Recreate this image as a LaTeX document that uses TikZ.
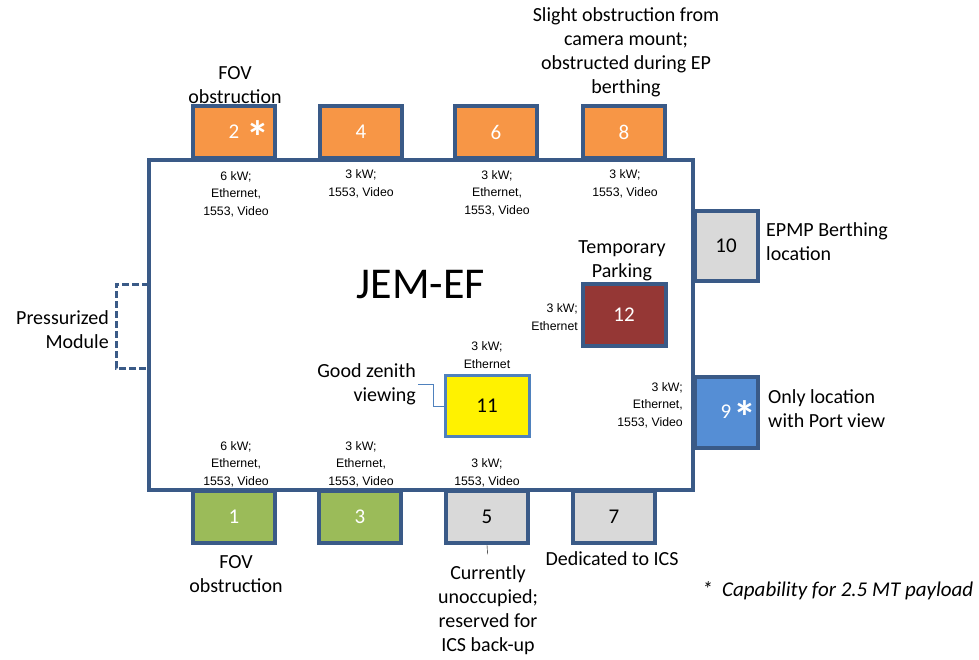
\documentclass[tikz,border=0pt]{standalone}
\usepackage{fontspec}
\setmainfont{Carlito}
\newfontfamily\arialf{Liberation Sans}
\definecolor{edge}{HTML}{3A5A87}
\definecolor{lightedge}{HTML}{4F81BD}
\definecolor{orangeslot}{HTML}{F79646}
\definecolor{greenslot}{HTML}{9BBB59}
\definecolor{greyslot}{HTML}{D9D9D9}
\definecolor{redslot}{HTML}{953735}
\definecolor{blueslot}{HTML}{558ED5}
\begin{document}
\begin{tikzpicture}[
  x=1pt, y=-1pt,
  slot/.style={draw=edge, line width=4pt, minimum width=82pt, minimum height=52pt, inner sep=0pt, font=\fontsize{21}{24}\selectfont},
  sideslot/.style={slot, minimum width=63pt, minimum height=70pt},
  spec/.style={align=center, inner sep=1pt, font=\arialf\fontsize{12.3}{17.5}\selectfont},
  note/.style={align=center, inner sep=2pt, font=\fontsize{20}{24}\selectfont},
  star/.style={text=white, inner sep=0pt, font=\bfseries\fontsize{46}{46}\selectfont}
]
\useasboundingbox (0,0) rectangle (979,659);
% JEM-EF platform with its payload slots
\node[slot, fill=orangeslot, text=white] (s2) at (234,132) {2};
\node[slot, fill=orangeslot, text=white] (s4) at (361,132) {4};
\node[slot, fill=orangeslot, text=white] (s6) at (496,132) {6};
\node[slot, fill=orangeslot, text=white] (s8) at (624,132) {8};
\node[slot, fill=greenslot, text=white] (s1) at (234,517) {1};
\node[slot, fill=greenslot, text=white] (s3) at (360,517) {3};
\node[slot, fill=greyslot] (s5) at (487,517) {5};
\node[slot, fill=greyslot] (s7) at (614,517) {7};
\node[sideslot, fill=greyslot] (s10) at (726,246) {10};
\node[sideslot, fill=blueslot, text=white, minimum height=71pt] (s9) at (726,412) {9};
\node[draw=edge, line width=4pt, fill=white, minimum width=544pt, minimum height=330pt] (main) at (421,325) {};
\node[font=\fontsize{44}{44}\selectfont] (jem) at (421,285) {JEM-EF};
\node[slot, fill=redslot, text=white, minimum width=83pt, minimum height=62pt] (s12) at (624,315) {12};
\node[slot, fill=yellow, draw=lightedge, line width=3pt, minimum width=84pt, minimum height=61pt] (s11) at (487,406) {11};
\node[star] (star2) at (258,137) {*};
\node[star] (star9) at (745,417) {*};

% power and data at each slot
\node[spec] (spec2) at (236,194) {6 kW;\\Ethernet,\\1553, Video};
\node[spec] (spec4) at (361,184) {3 kW;\\1553, Video};
\node[spec] (spec6) at (497,193) {3 kW;\\Ethernet,\\1553, Video};
\node[spec] (spec8) at (625,184) {3 kW;\\1553, Video};
\node[spec, align=right, anchor=east] (spec12) at (579,317) {3 kW;\\Ethernet};
\node[spec] (spec11) at (487,355) {3 kW;\\Ethernet};
\node[spec, align=right, anchor=east] (spec9) at (684,405) {3 kW;\\Ethernet,\\1553, Video};
\node[spec] (spec1) at (236,464) {6 kW;\\Ethernet,\\1553, Video};
\node[spec] (spec3) at (361,464) {3 kW;\\Ethernet,\\1553, Video};
\node[spec] (spec5) at (487,473) {3 kW;\\1553, Video};

% remarks
\node[note] (fovtop) at (235,85) {FOV\\obstruction};
\node[note] (slight) at (626,52) {Slight obstruction from\\camera mount;\\obstructed during EP\\berthing};
\node[note] (temp) at (622,261) {Temporary\\Parking};
\node[note, align=left, anchor=west] (epmp) at (764,242) {EPMP Berthing\\location};
\node[note, align=left, anchor=west] (portview) at (766,409) {Only location\\with Port view};
\node[note] (fovbot) at (236,574) {FOV\\obstruction};
\node[note] (dedicated) at (612,559) {Dedicated to ICS};
\node[note] (unocc) at (488,610) {Currently\\unoccupied;\\reserved for\\ICS back-up};
\node[note, align=right, anchor=east] (zenith) at (418,384) {Good zenith\\viewing};
\node[note, align=right, anchor=east] (pressurized) at (111,330) {Pressurized\\Module};
\node[note, anchor=west, font=\itshape\fontsize{21}{24}\selectfont] (capability) at (700,591) {*\ \ Capability for 2.5 MT payload};

\draw[lightedge, thin] (zenith.east) -- ++(15,0) |- (s11.west);
\draw[thin, shorten >=9pt] (s5.south) -- (unocc.north);
\draw[edge, line width=3pt, dash pattern=on 7pt off 3pt] (149,284) -| (116,368) -- (149,368);
\end{tikzpicture}
\end{document}
